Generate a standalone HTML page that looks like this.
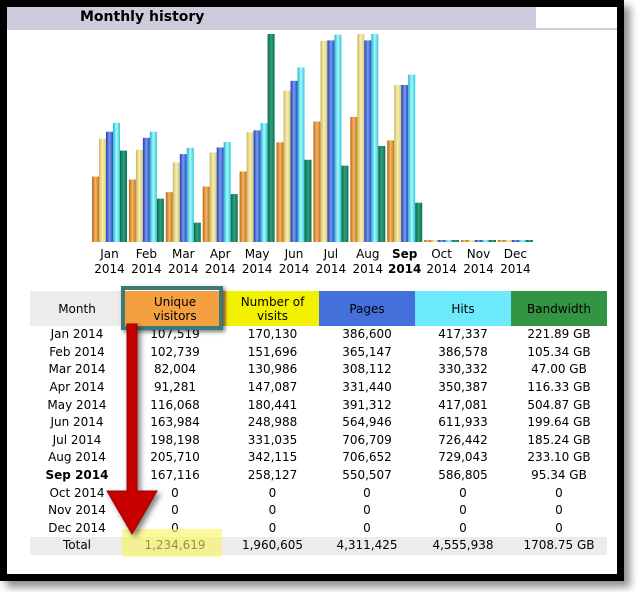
<!DOCTYPE html>
<html><head><meta charset="utf-8"><style>
body{margin:0;width:640px;height:592px;background:#fff;overflow:hidden;position:relative;font-family:"DejaVu Sans","Liberation Sans",sans-serif}
#frame{position:absolute;left:0;top:0;width:610px;height:567px;border:7px solid #000;background:#fff;box-shadow:6px 6px 8px rgba(0,0,0,.45)}
#title{position:absolute;left:7px;top:7px;width:529px;height:21px;background:#ccccdd;font-weight:bold;font-size:14px;line-height:21px;padding-left:73px;box-sizing:border-box}
#tline{position:absolute;left:7px;top:28px;width:610px;height:2px;background:#ccccdd}
table{position:absolute;left:30px;top:291px;border-collapse:collapse;font-size:12px;text-align:center}
td{padding:0;height:17.6px;line-height:17px}
th{font-weight:normal;height:33px;line-height:14px;font-size:12px}
.tot td{background:#ececec}
</style></head><body>
<div id="frame"></div>
<div id="title">Monthly history</div>
<div id="tline"></div>
<svg id="chart" width="640" height="592" style="position:absolute;left:0;top:0">
<defs>
<linearGradient id="g0"><stop offset="0" stop-color="#b86a10"/><stop offset=".5" stop-color="#f6b56a"/><stop offset="1" stop-color="#c27414"/></linearGradient>
<linearGradient id="g1"><stop offset="0" stop-color="#c9b860"/><stop offset=".5" stop-color="#f8f0b0"/><stop offset="1" stop-color="#d8c878"/></linearGradient>
<linearGradient id="g2"><stop offset="0" stop-color="#2040b0"/><stop offset=".5" stop-color="#7898f0"/><stop offset="1" stop-color="#2a4cc0"/></linearGradient>
<linearGradient id="g3"><stop offset="0" stop-color="#20b8c8"/><stop offset=".5" stop-color="#a8f8ff"/><stop offset="1" stop-color="#30c8d8"/></linearGradient>
<linearGradient id="g4"><stop offset="0" stop-color="#0a6848"/><stop offset=".5" stop-color="#30a080"/><stop offset="1" stop-color="#0a7050"/></linearGradient>
</defs>
<g id="bars"></g><g id="labels"></g>
</svg>
<table>
<tr>
<th style="width:92px;background:#ececec">Month</th>
<th style="width:100px;background:#f5a040">Unique<br>visitors</th>
<th style="width:91px;background:#f2f200">Number of<br>visits</th>
<th style="width:94px;background:#4470dc">Pages</th>
<th style="width:94px;background:#6ceafc">Hits</th>
<th style="width:94px;background:#339444">Bandwidth</th>
</tr>
<tbody id="tb"></tbody>
</table>
<div style="position:absolute;left:121px;top:286px;width:94px;height:36px;border:4px solid #3d7b78;box-shadow:2px 2px 4px rgba(0,0,0,.5)"></div>
<div style="position:absolute;left:122px;top:529px;width:100px;height:28px;background:rgba(248,245,90,.6)"></div>
<svg width="640" height="592" style="position:absolute;left:0;top:0">
<polygon points="127,324 137,324 137,491 157,491 132,534 107,491 127,491" fill="#c80000" stroke="#900" stroke-width="1" style="filter:drop-shadow(3px 3px 3px rgba(0,0,0,.5))"/>
</svg>
<script>
const months=["Jan","Feb","Mar","Apr","May","Jun","Jul","Aug","Sep","Oct","Nov","Dec"];
const visitors=[107519,102739,82004,91281,116068,163984,198198,205710,167116,0,0,0];
const visits=[170130,151696,130986,147087,180441,248988,331035,342115,258127,0,0,0];
const pages=[386600,365147,308112,331440,391312,564946,706709,706652,550507,0,0,0];
const hits=[417337,386578,330332,350387,417081,611933,726442,729043,586805,0,0,0];
const bandwidth=[221.89,105.34,47.00,116.33,504.87,199.64,185.24,233.10,95.34,0,0,0];
const bwLabels=["221.89 GB","105.34 GB","47.00 GB","116.33 GB","504.87 GB","199.64 GB","185.24 GB","233.10 GB","95.34 GB","0","0","0"];
const totals=["1,234,619","1,960,605","4,311,425","4,555,938","1708.75 GB"];
const NS="http://www.w3.org/2000/svg";
const base=242,H=208,x0=92,step=36.9,bw=7;
const maxV=Math.max(...visits),maxH=Math.max(...hits),maxB=Math.max(...bandwidth);
const series=[[visitors,maxV],[visits,maxV],[pages,maxH],[hits,maxH],[bandwidth,maxB]];
const gb=document.getElementById('bars'),gl=document.getElementById('labels');
const fmt=n=>n.toLocaleString('en-US');
months.forEach((m,i)=>{
  series.forEach(([arr,mx],s)=>{
    let h=Math.max(2,arr[i]/mx*H);
    const r=document.createElementNS(NS,'rect');
    
    
    r.setAttribute('x',x0+i*step+s*bw);r.setAttribute('y',base-h);
    r.setAttribute('width',bw);r.setAttribute('height',h);
    r.setAttribute('fill','url(#g'+s+')');gb.appendChild(r);
  });
  const cx=x0+i*step+17.5;
  [[m,254],["2014",269]].forEach(([t,y])=>{
    const tx=document.createElementNS(NS,'text');
    
    
    tx.setAttribute('x',cx);tx.setAttribute('y',y+4);tx.setAttribute('text-anchor','middle');
    tx.setAttribute('font-size','12');tx.setAttribute('font-family','DejaVu Sans, sans-serif');
    if(i===8)tx.setAttribute('font-weight','bold');
    tx.textContent=t;gl.appendChild(tx);
  });
});
const tb=document.getElementById('tb');
months.forEach((m,i)=>{
  const tr=document.createElement('tr');
  
  
  const cells=[m+" 2014",fmt(visitors[i]),fmt(visits[i]),fmt(pages[i]),fmt(hits[i]),bwLabels[i]];
  cells.forEach((c,j)=>{const td=document.createElement('td');td.textContent=c;if(i===8&&j===0)td.style.fontWeight='bold';tr.appendChild(td);});
  tb.appendChild(tr);
});
const tr=document.createElement('tr');tr.className='tot';


["Total",...totals].forEach(c=>{const td=document.createElement('td');td.textContent=c;tr.appendChild(td);});
tb.appendChild(tr);
</script>
</body></html>
